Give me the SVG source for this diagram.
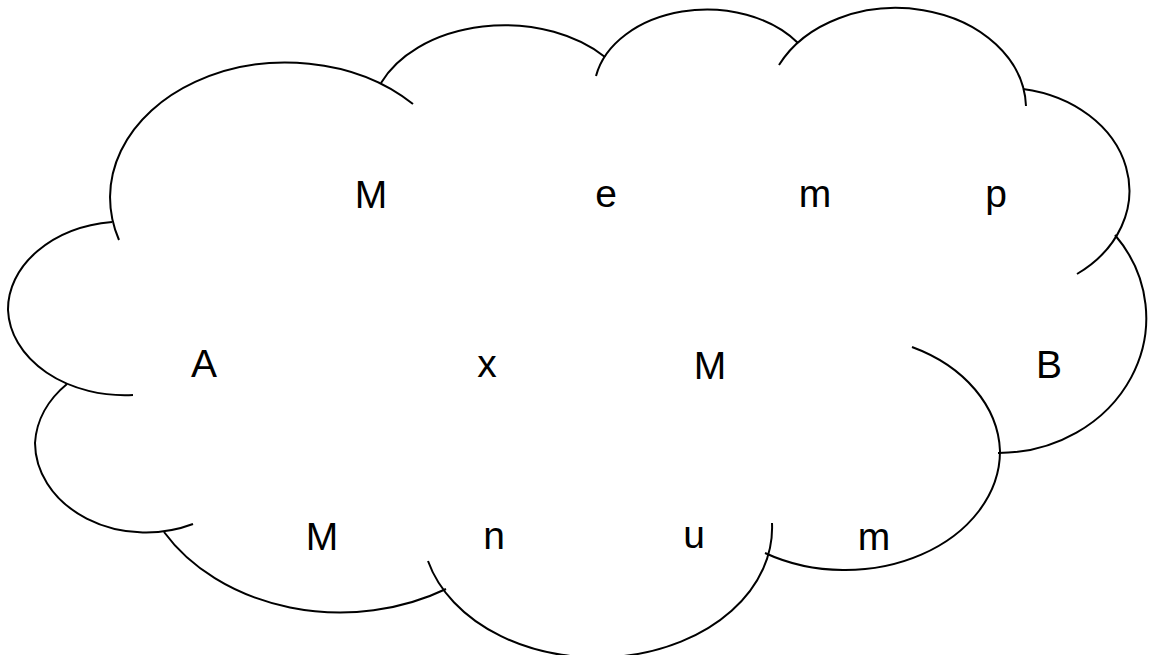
<svg xmlns="http://www.w3.org/2000/svg" width="1159" height="655" viewBox="0 0 1159 655">
<style>
.arc{fill:none;stroke:#000;stroke-width:2}
.t{font-family:"Liberation Sans","Noto Sans",sans-serif;font-size:39px;fill:#000;text-anchor:middle}
</style>
<rect width="1159" height="655" fill="#fff"/>
<g id="cloud">
<path class="arc" d="M119,240 A176,135 0 0 1 413,104"/>
<path class="arc" d="M381,83 A134,94 0 0 1 605,57"/>
<path class="arc" d="M596,76 A113,82 0 0 1 798,43"/>
<path class="arc" d="M779,65 A130,101 0 0 1 1026,106"/>
<path class="arc" d="M1023,89 A127,103 0 0 1 1077,274"/>
<path class="arc" d="M1115,235 A148,135 0 0 1 998,453"/>
<path class="arc" d="M912,347 A155,119 0 0 1 1000,451 A155,119 0 0 1 765,553"/>
<path class="arc" d="M772,523 A175,130 0 0 1 428,561"/>
<path class="arc" d="M446,589 A204,162 0 0 1 164,532"/>
<path class="arc" d="M193,524 A111,90 0 0 1 35,443 A111,90 0 0 1 67,384"/>
<path class="arc" d="M112,222 A117,88 0 0 0 8,310 A117,88 0 0 0 133,395"/>
</g>
<g id="letters">
<text class="t" x="371" y="208">M</text>
<text class="t" x="606" y="207">e</text>
<text class="t" x="815" y="207">m</text>
<text class="t" x="996" y="207">p</text>
<text class="t" x="204" y="377">A</text>
<text class="t" x="487" y="377">x</text>
<text class="t" x="710" y="379">M</text>
<text class="t" x="1049" y="378">B</text>
<text class="t" x="322" y="550">M</text>
<text class="t" x="494" y="549">n</text>
<text class="t" x="694" y="548">u</text>
<text class="t" x="874" y="550">m</text>
</g>
</svg>
